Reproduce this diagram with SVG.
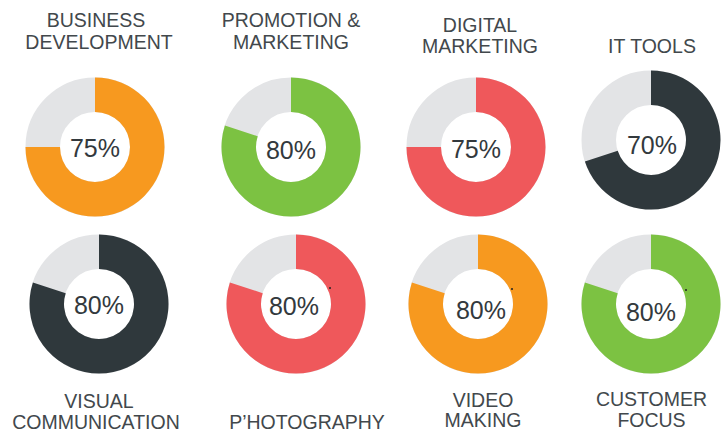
<svg xmlns="http://www.w3.org/2000/svg" width="723" height="433" viewBox="0 0 723 433">
<style>
.bg{fill:#ffffff}
.track{fill:none;stroke:#e3e4e6;stroke-width:34.5}
.orange{fill:#f7991f}
.green{fill:#7cc242}
.red{fill:#ef585b}
.dark{fill:#2f383c}
.lbl{font-family:"Liberation Sans",Arial,sans-serif;font-size:19.5px;fill:#42484c;text-anchor:middle}
.pct{font-family:"Liberation Sans",Arial,sans-serif;font-size:25px;fill:#33393d;text-anchor:middle}
.dot{fill:#222}
</style>
<rect class="bg" x="0" y="0" width="723" height="433"/>

<g id="business-development">
<circle class="track" cx="95" cy="147" r="52.25"/>
<path class="orange" d="M95,77.5 A69.5,69.5 0 1 1 25.5,147 L60,147 A35,35 0 1 0 95,112 Z"/>
<text class="pct" x="95" y="157">75%</text>
<text class="lbl" x="96" y="27">BUSINESS</text>
<text class="lbl" x="99" y="49">DEVELOPMENT</text>
</g>

<g id="promotion-marketing">
<circle class="track" cx="291" cy="147" r="52.25"/>
<path class="green" d="M291,77.5 A69.5,69.5 0 1 1 224.901,125.523 L257.713,136.184 A35,35 0 1 0 291,112 Z"/>
<text class="pct" x="291" y="159">80%</text>
<text class="lbl" x="291" y="27">PROMOTION &amp;</text>
<text class="lbl" x="291" y="49">MARKETING</text>
</g>

<g id="digital-marketing">
<circle class="track" cx="476" cy="147" r="52.25"/>
<path class="red" d="M476,77.5 A69.5,69.5 0 1 1 406.5,147 L441,147 A35,35 0 1 0 476,112 Z"/>
<text class="pct" x="476" y="158">75%</text>
<text class="lbl" x="480" y="32">DIGITAL</text>
<text class="lbl" x="480" y="53">MARKETING</text>
</g>

<g id="it-tools">
<circle class="track" cx="651" cy="140" r="52.25"/>
<path class="dark" d="M651,70.5 A69.5,69.5 0 1 1 584.901,161.477 L617.713,150.816 A35,35 0 1 0 651,105 Z"/>
<text class="pct" x="652" y="154">70%</text>
<text class="lbl" x="652" y="53">IT TOOLS</text>
</g>

<g id="visual-communication">
<circle class="track" cx="99" cy="304" r="52.25"/>
<path class="dark" d="M99,234.5 A69.5,69.5 0 1 1 32.901,282.523 L65.713,293.184 A35,35 0 1 0 99,269 Z"/>
<text class="pct" x="99" y="314">80%</text>
<text class="lbl" x="99" y="408">VISUAL</text>
<text class="lbl" x="96" y="429">COMMUNICATION</text>
</g>

<g id="photography">
<circle class="track" cx="296" cy="304" r="52.25"/>
<path class="red" d="M296,234.5 A69.5,69.5 0 1 1 229.901,282.523 L262.713,293.184 A35,35 0 1 0 296,269 Z"/>
<circle class="dot" cx="330" cy="288" r="1"/>
<text class="pct" x="294" y="315">80%</text>
<text class="lbl" x="307" y="429">P’HOTOGRAPHY</text>
</g>

<g id="video-making">
<circle class="track" cx="478" cy="304" r="52.25"/>
<path class="orange" d="M478,234.5 A69.5,69.5 0 1 1 411.901,282.523 L444.713,293.184 A35,35 0 1 0 478,269 Z"/>
<circle class="dot" cx="512" cy="289" r="1"/>
<text class="pct" x="481" y="319">80%</text>
<text class="lbl" x="483" y="407">VIDEO</text>
<text class="lbl" x="483" y="427">MAKING</text>
</g>

<g id="customer-focus">
<circle class="track" cx="651" cy="304" r="52.25"/>
<path class="green" d="M651,234.5 A69.5,69.5 0 1 1 584.901,282.523 L617.713,293.184 A35,35 0 1 0 651,269 Z"/>
<circle class="dot" cx="686" cy="290" r="1"/>
<text class="pct" x="651" y="321">80%</text>
<text class="lbl" x="651.5" y="406">CUSTOMER</text>
<text class="lbl" x="651.5" y="427">FOCUS</text>
</g>

<g id="connectors"></g>
</svg>
